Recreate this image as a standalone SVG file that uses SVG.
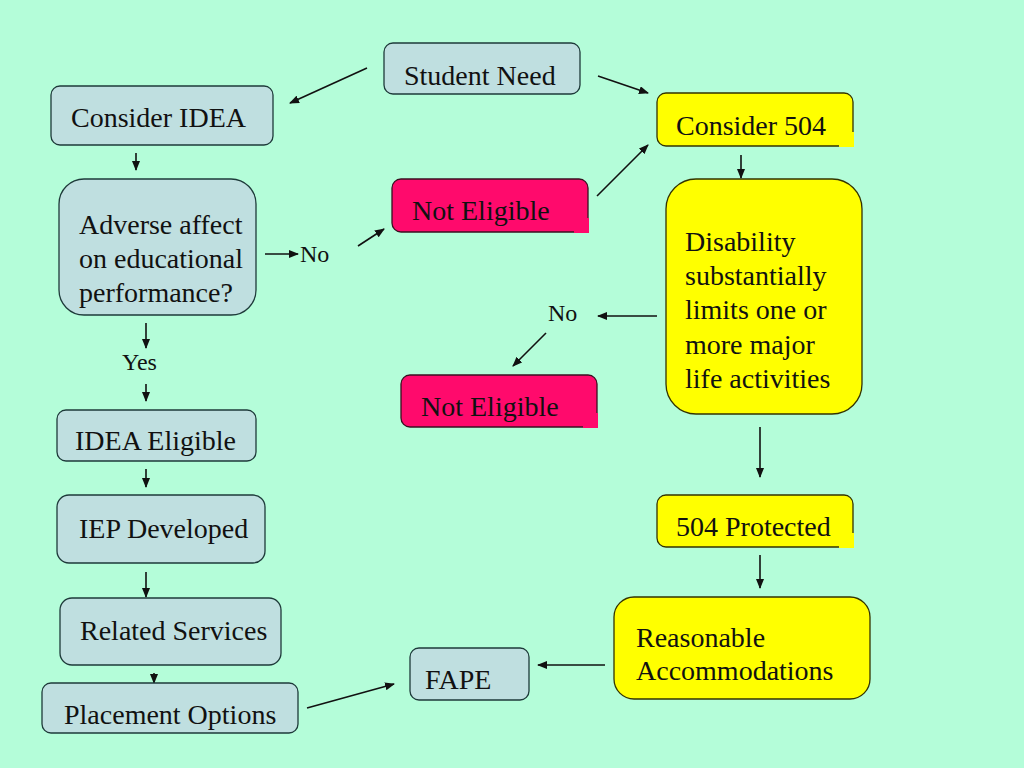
<svg xmlns="http://www.w3.org/2000/svg" width="1024" height="768" viewBox="0 0 1024 768">
<defs>
<style>
.bx{fill:#bfdfe0;stroke:#1e3a3a;stroke-width:1.3}
.pk{fill:#ff0a6c;stroke:#3a1020;stroke-width:1.3}
.yl{fill:#ffff00;stroke:#333300;stroke-width:1.3}
.t{font-family:"Liberation Serif","Times New Roman",serif;font-size:28px;fill:#111}
.s{font-family:"Liberation Serif","Times New Roman",serif;font-size:24px;fill:#111}
.c line{stroke:#111;stroke-width:1.6;marker-end:url(#ah)}
</style>
<marker id="ah" markerUnits="userSpaceOnUse" markerWidth="10" markerHeight="8" refX="9" refY="4" orient="auto">
<path d="M0,0 L10,4 L0,8 Z" fill="#111"/>
</marker>
</defs>
<rect width="1024" height="768" fill="#b4fdd9"/>

<g class="c" id="connectors">
<line x1="367" y1="68" x2="290" y2="103"/>
<line x1="598" y1="76" x2="648" y2="93"/>
<line x1="136" y1="153" x2="136" y2="170"/>
<line x1="265" y1="254" x2="298" y2="254"/>
<line x1="358" y1="246" x2="384" y2="229"/>
<line x1="597" y1="196" x2="648" y2="145"/>
<line x1="741" y1="155" x2="741" y2="178"/>
<line x1="657" y1="316" x2="598" y2="316"/>
<line x1="546" y1="333" x2="513" y2="366"/>
<line x1="146" y1="323" x2="146" y2="348"/>
<line x1="146" y1="384" x2="146" y2="401"/>
<line x1="146" y1="469" x2="146" y2="487"/>
<line x1="146" y1="572" x2="146" y2="597"/>
<line x1="154" y1="673" x2="154" y2="683"/>
<line x1="760" y1="427" x2="760" y2="477"/>
<line x1="760" y1="555" x2="760" y2="588"/>
<line x1="605" y1="665" x2="538" y2="665"/>
<line x1="307" y1="708" x2="394" y2="684"/>
</g>

<g id="student-need">
<rect class="bx" x="384" y="43" width="196" height="51" rx="9"/>
<text class="t" x="404" y="85">Student Need</text>
</g>

<g id="consider-idea">
<rect class="bx" x="51" y="86" width="222" height="59" rx="9"/>
<text class="t" x="71" y="127">Consider IDEA</text>
</g>

<g id="adverse">
<rect class="bx" x="59" y="179" width="197" height="136" rx="25"/>
<text class="t" x="79" y="234">Adverse affect</text>
<text class="t" x="79" y="268">on educational</text>
<text class="t" x="79" y="302">performance?</text>
</g>

<g id="label-no-1"><text class="s" x="300" y="262">No</text></g>

<g id="not-eligible-1">
<rect class="pk" x="392" y="179" width="196" height="53" rx="9"/>
<rect x="574" y="218" width="15" height="15" fill="#ff0a6c"/>
<text class="t" x="412" y="220">Not Eligible</text>
</g>

<g id="consider-504">
<rect class="yl" x="657" y="93" width="196" height="53" rx="9"/>
<rect x="839" y="132" width="15" height="15" fill="#ffff00"/>
<text class="t" x="676" y="135">Consider 504</text>
</g>

<g id="disability">
<rect class="yl" x="666" y="179" width="196" height="235" rx="30"/>
<text class="t" x="685" y="251">Disability</text>
<text class="t" x="685" y="285">substantially</text>
<text class="t" x="685" y="319">limits one or</text>
<text class="t" x="685" y="354">more major</text>
<text class="t" x="685" y="388">life activities</text>
</g>

<g id="label-no-2"><text class="s" x="548" y="321">No</text></g>

<g id="not-eligible-2">
<rect class="pk" x="401" y="375" width="196" height="52" rx="9"/>
<rect x="583" y="413" width="15" height="15" fill="#ff0a6c"/>
<text class="t" x="421" y="416">Not Eligible</text>
</g>

<g id="label-yes"><text class="s" x="122" y="370">Yes</text></g>

<g id="idea-eligible">
<rect class="bx" x="57" y="410" width="199" height="51" rx="9"/>
<text class="t" x="75" y="450">IDEA Eligible</text>
</g>

<g id="iep-developed">
<rect class="bx" x="57" y="495" width="208" height="68" rx="12"/>
<text class="t" x="79" y="538">IEP Developed</text>
</g>

<g id="related-services">
<rect class="bx" x="60" y="598" width="221" height="67" rx="12"/>
<text class="t" x="80" y="640">Related Services</text>
</g>

<g id="placement-options">
<rect class="bx" x="42" y="683" width="256" height="50" rx="9"/>
<text class="t" x="64" y="724">Placement Options</text>
</g>

<g id="fape">
<rect class="bx" x="410" y="648" width="119" height="52" rx="9"/>
<text class="t" x="425" y="689">FAPE</text>
</g>

<g id="protected-504">
<rect class="yl" x="657" y="495" width="196" height="52" rx="9"/>
<rect x="839" y="533" width="15" height="15" fill="#ffff00"/>
<text class="t" x="676" y="536">504 Protected</text>
</g>

<g id="reasonable">
<rect class="yl" x="614" y="597" width="256" height="102" rx="20"/>
<text class="t" x="636" y="647">Reasonable</text>
<text class="t" x="636" y="680">Accommodations</text>
</g>
</svg>
